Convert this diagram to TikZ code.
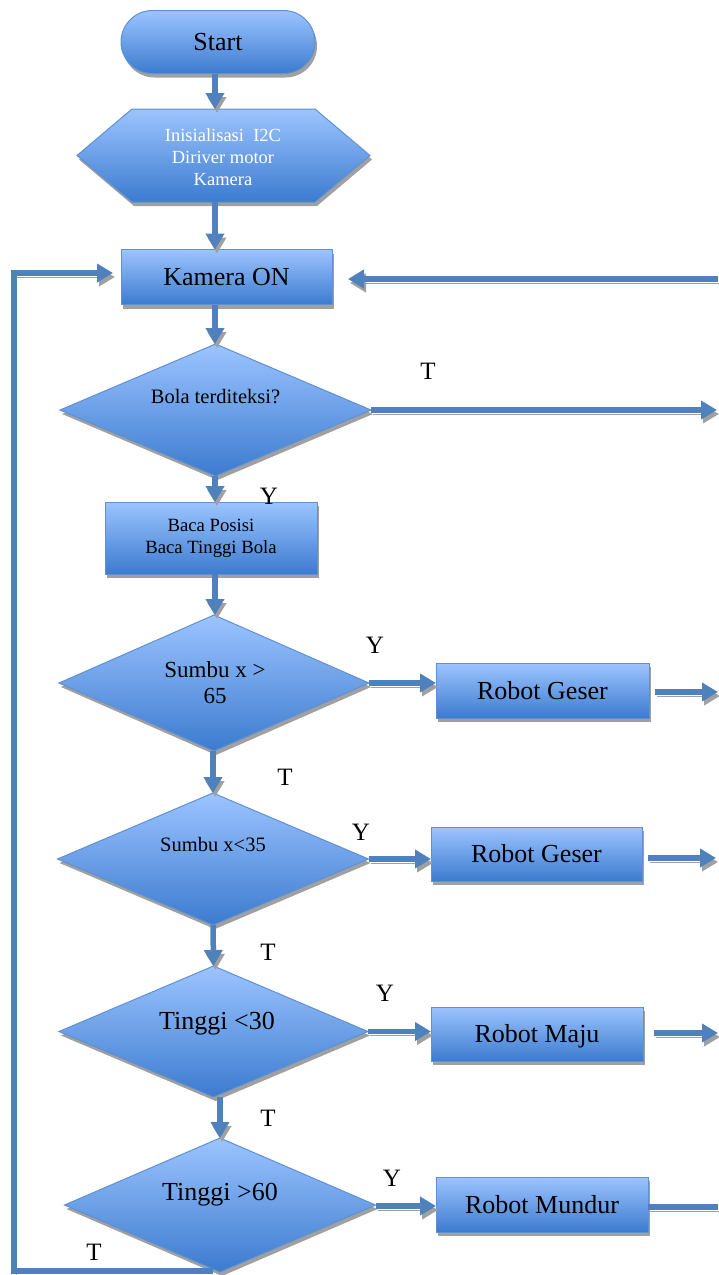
\documentclass[tikz,border=0pt]{standalone}
\usepackage{fontspec}
\setmainfont{Liberation Serif}
\usetikzlibrary{shapes.geometric,shadows,arrows.meta,calc}
\definecolor{flowblue}{RGB}{79,129,189}
\definecolor{edgeblue}{RGB}{95,145,210}
\definecolor{topblue}{RGB}{156,196,255}
\definecolor{botblue}{RGB}{60,123,207}
\definecolor{shadowgray}{RGB}{160,160,160}
\tikzset{
  shapefill/.style={top color=topblue, bottom color=botblue, draw=edgeblue, line width=1pt,
    drop shadow={shadow xshift=2pt, shadow yshift=-4pt, fill=shadowgray, opacity=1}},
  procbox/.style={shapefill, rectangle, inner sep=0pt, outer sep=0pt, text height=17.5pt, text depth=0pt,
    font=\fontsize{26}{30}\selectfont},
  multibox/.style={shapefill, rectangle, inner sep=0pt, outer sep=0pt, align=center},
  decision/.style={shapefill, diamond, inner sep=0pt, outer sep=0pt},
  txt/.style={inner sep=0pt, outer sep=0pt, align=center, text=black},
  lbl/.style={inner sep=0pt, font=\fontsize{25}{28}\selectfont},
  flowarrow/.style={line width=5.5pt, draw=flowblue, -{Triangle[length=16pt,width=18pt]},
    preaction={draw=shadowgray, -{Triangle[length=16pt,width=18pt]}, transform canvas={xshift=2pt,yshift=-4pt}}},
  flowline/.style={line width=5.5pt, draw=flowblue,
    preaction={draw=shadowgray, transform canvas={xshift=2pt,yshift=-4pt}}},
}
\begin{document}
\begin{tikzpicture}[x=1pt,y=-1pt]
\useasboundingbox (0,0) rectangle (718,1275);
% spine
\coordinate (sp) at (215,0);
% start
\node[procbox, rounded corners=31.5pt, minimum width=194pt, minimum height=63pt] (start) at (218,42) {Start};
% hexagon
\node[inner sep=0pt, outer sep=0pt, minimum width=293pt, minimum height=93pt] (init) at (223.5,155.5) {};
\path[shapefill] (init.west) -- ($(init.north west)+(55,0)$) -- ($(init.north east)+(-55,0)$) -- (init.east)
  -- ($(init.south east)+(-55,0)$) -- ($(init.south west)+(55,0)$) -- cycle;
\node[txt, text=white, font=\fontsize{18.5}{22}\selectfont] (initt) at (223,157) {Inisialisasi\ \ I2C\\Diriver motor\\Kamera};
% kamera on
\node[procbox, minimum width=211pt, minimum height=55pt] (kam) at (226.5,277) {Kamera ON};
% decisions
\node[decision, minimum width=311pt, minimum height=132pt] (bola) at (215.5,410) {};
\node[txt, anchor=base, font=\fontsize{20.5}{24}\selectfont] (bolat) at (215.5,403) {Bola terditeksi?};
\node[multibox, minimum width=212pt, minimum height=72pt, font=\fontsize{18.7}{22}\selectfont] (baca) at (211,538) {Baca Posisi\\Baca Tinggi Bola};
\node[decision, minimum width=310pt, minimum height=136pt] (d1) at (214,683) {};
\node[txt, font=\fontsize{23}{26}\selectfont] (d1t) at (215,683) {Sumbu x >\\65};
\node[decision, minimum width=311pt, minimum height=132pt] (d2) at (213,859) {};
\node[txt, anchor=base, font=\fontsize{20.5}{24}\selectfont] (d2t) at (213,851) {Sumbu x<35};
\node[decision, minimum width=309pt, minimum height=131pt] (d3) at (213.5,1031.5) {};
\node[txt, anchor=base, font=\fontsize{26}{30}\selectfont] (d3t) at (217,1029) {Tinggi <30};
\node[decision, minimum width=311pt, minimum height=134pt] (d4) at (220,1205) {};
\node[txt, anchor=base, font=\fontsize{26}{30}\selectfont] (d4t) at (220,1200) {Tinggi >60};
% action boxes
\node[procbox, minimum width=213pt, minimum height=55pt] (g1) at (542.5,690.5) {Robot Geser};
\node[procbox, minimum width=211pt, minimum height=54pt] (g2) at (536.5,854) {Robot Geser};
\node[procbox, minimum width=212pt, minimum height=54pt] (maju) at (537,1034) {Robot Maju};
\node[procbox, minimum width=212pt, minimum height=55pt] (mundur) at (542,1204.5) {Robot Mundur};
% coordinates for free ends
\coordinate (inR) at (718,279);
\coordinate (kamR) at (348,279);
\coordinate (outB) at (717,411);
\coordinate (o1) at (718,692);
\coordinate (o2) at (716,858);
\coordinate (o3) at (718,1033);
\coordinate (o4) at (718,1207);
\coordinate (loopL) at (14,1271);
\coordinate (kamL) at (113,273);
% connectors
\draw[flowarrow] (start.south -| sp) -- (init.north -| sp);
\draw[flowarrow] (init.south -| sp) -- (kam.north -| sp);
\draw[flowarrow] (kam.south -| sp) -- (bola.north -| sp);
\draw[flowarrow] (bola.south -| sp) -- (baca.north -| sp);
\draw[flowarrow] (baca.south -| sp) -- (d1.north -| sp);
\draw[flowarrow] (d1.south -| d2.north) -- (d2.north);
\draw[flowarrow] (d2.south) -- (d3.north);
\draw[flowarrow] (d3.south -| d4.north) -- (d4.north);
\draw[flowarrow] (bola.east) -- (bola.east -| outB);
\draw[flowarrow] (inR) -- (kamR);
\draw[flowarrow] (d1.east) -- (d1.east -| g1.west);
\draw[flowarrow] ($(g1.east |- o1)+(6,0)$) -- (o1);
\draw[flowarrow] (d2.east) -- (d2.east -| g2.west);
\draw[flowarrow] ($(g2.east |- o2)+(6,0)$) -- (o2);
\draw[flowarrow] (d3.east) -- (d3.east -| maju.west);
\draw[flowarrow] ($(maju.east |- o3)+(11,0)$) -- (o3);
\draw[flowarrow] ($(d4.east)+(0,1)$) -- ($(d4.east -| mundur.west)+(0,1)$);
\draw[flowline] (mundur.east |- o4) -- (o4);
\draw[flowarrow] ($(d4.south)+(-7,-1)$) -- (loopL) |- (kamL);
% labels
\node[lbl] (lT1) at (428,371) {T};
\node[lbl] (lY1) at (269,496) {Y};
\node[lbl] (lY2) at (375,645) {Y};
\node[lbl] (lT2) at (285,777) {T};
\node[lbl] (lY3) at (361,832) {Y};
\node[lbl] (lT3) at (268,952) {T};
\node[lbl] (lY4) at (385,993) {Y};
\node[lbl] (lT4) at (268,1118) {T};
\node[lbl] (lY5) at (392,1178) {Y};
\node[lbl] (lT5) at (94,1252) {T};
\end{tikzpicture}
\end{document}
